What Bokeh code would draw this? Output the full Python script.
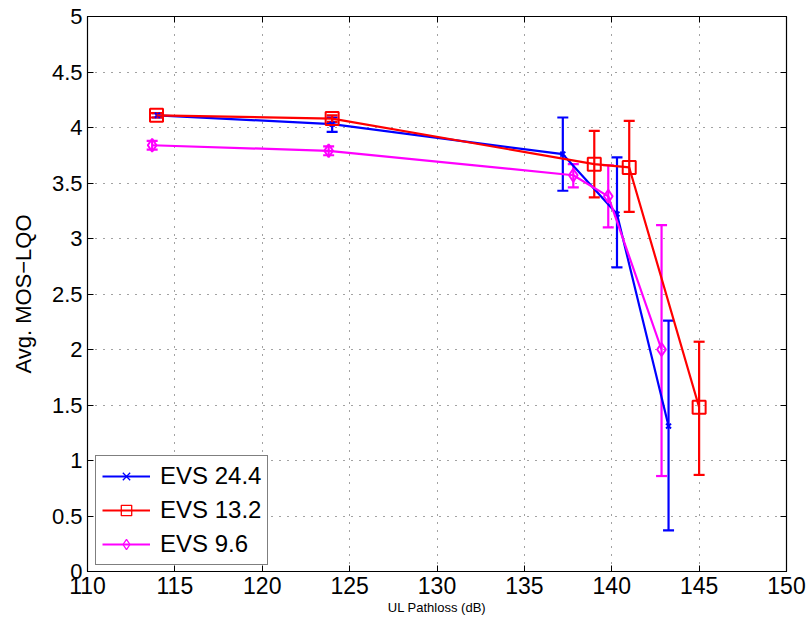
from bokeh.plotting import figure
from bokeh.models import (Whisker, TeeHead, ColumnDataSource, LinearAxis, Legend,
                          LegendItem, FixedTicker, Range1d)
from bokeh.embed import file_html
from bokeh.resources import INLINE

# UL pathloss (dB), mean MOS-LQO and error-bar bounds per codec mode
evs244_x = [114.0, 124.0, 137.2, 140.3, 143.25]
evs244_y = [4.11, 4.03, 3.76, 3.22, 1.31]
evs244_lo = [4.09, 3.96, 3.43, 2.74, 0.37]
evs244_hi = [4.13, 4.09, 4.09, 3.73, 2.26]

evs132_x = [113.95, 124.0, 139.0, 141.0, 145.0]
evs132_y = [4.11, 4.08, 3.67, 3.64, 1.48]
evs132_lo = [4.09, 4.05, 3.37, 3.24, 0.87]
evs132_hi = [4.13, 4.11, 3.97, 4.06, 2.07]

evs96_x = [113.7, 123.8, 137.8, 139.8, 142.85]
evs96_y = [3.84, 3.79, 3.57, 3.38, 2.00]
evs96_lo = [3.80, 3.75, 3.46, 3.10, 0.86]
evs96_hi = [3.88, 3.83, 3.67, 3.66, 3.12]

x_ticks = [110, 115, 120, 125, 130, 135, 140, 145, 150]
y_ticks = [0, 0.5, 1, 1.5, 2, 2.5, 3, 3.5, 4, 4.5, 5]
y_tick_labels = ["0", "0.5", "1", "1.5", "2", "2.5", "3", "3.5", "4", "4.5", "5"]

FONT = "Liberation Sans"

p = figure(width=811, height=622, output_backend="svg", toolbar_location=None,
           x_range=Range1d(110, 150), y_range=Range1d(0, 5),
           min_border_left=87, min_border_right=25, min_border_top=16,
           min_border_bottom=51, x_axis_label="UL Pathloss (dB)",
           y_axis_label="Avg. MOS\u2212LQO")
p.frame_width = 699
p.frame_height = 555
p.outline_line_color = "black"
p.outline_line_width = 1.2
p.background_fill_color = "white"
p.border_fill_color = "white"

for ax in (p.xaxis[0], p.yaxis[0]):
    ax.major_tick_in = 6
    ax.major_tick_out = 0
    ax.minor_tick_in = 0
    ax.minor_tick_out = 0
    ax.axis_line_color = "black"
    ax.major_label_text_font = FONT
    ax.major_label_text_color = "black"
    ax.axis_label_text_font = FONT
    ax.axis_label_text_font_style = "normal"
    ax.axis_label_text_color = "black"

p.xaxis[0].ticker = FixedTicker(ticks=x_ticks)
p.yaxis[0].ticker = FixedTicker(ticks=y_ticks)
p.yaxis[0].major_label_overrides = {t: s for t, s in zip(y_ticks, y_tick_labels)}
p.xaxis[0].major_label_text_font_size = "23px"
p.yaxis[0].major_label_text_font_size = "22px"
p.xaxis[0].axis_label_text_font_size = "13px"
p.xaxis[0].axis_label_standoff = 3
p.xaxis[0].major_label_standoff = 5
p.yaxis[0].axis_label_text_font_size = "22px"
p.yaxis[0].axis_label_standoff = 13
p.yaxis[0].major_label_standoff = 5

# Mirror ticks on top and right (boxed axes)
for side in ("above", "right"):
    a = LinearAxis(ticker=FixedTicker(ticks=x_ticks if side == "above" else y_ticks),
                   major_tick_in=6, major_tick_out=0, minor_tick_in=0, minor_tick_out=0,
                   major_label_text_font_size="0px", axis_line_color="black")
    a.major_label_text_alpha = 0
    p.add_layout(a, side)

p.grid.grid_line_color = "#444444"
p.grid.grid_line_dash = "1 7"
p.grid.grid_line_width = 1
p.xgrid.ticker = FixedTicker(ticks=x_ticks)
p.ygrid.ticker = FixedTicker(ticks=y_ticks)

series = [
    ("EVS 24.4", "blue", "x", 7, 6, evs244_x, evs244_y, evs244_lo, evs244_hi),
    ("EVS 13.2", "red", "square", 13, 10, evs132_x, evs132_y, evs132_lo, evs132_hi),
    ("EVS 9.6", "magenta", "diamond", 13, 10, evs96_x, evs96_y, evs96_lo, evs96_hi),
]

items = []
for name, color, marker, size, leg_size, xs, ys, lo, hi in series:
    src = ColumnDataSource(dict(x=xs, y=ys, lo=lo, hi=hi))
    w = Whisker(source=src, base="x", lower="lo", upper="hi", dimension="height",
                line_color=color, line_width=2.2,
                upper_head=TeeHead(size=11, line_color=color, line_width=2.2),
                lower_head=TeeHead(size=11, line_color=color, line_width=2.2))
    p.add_layout(w)
    p.line("x", "y", source=src, line_color=color, line_width=2.2)
    p.scatter("x", "y", source=src, marker=marker, size=size,
              line_color=color, fill_color=None, line_width=2)
    # legend swatch uses a smaller marker than the plotted points
    key_src = ColumnDataSource(dict(x=[float("nan")], y=[float("nan")]))
    kl = p.line("x", "y", source=key_src, line_color=color, line_width=2.2)
    km = p.scatter("x", "y", source=key_src, marker=marker, size=leg_size,
                   line_color=color, fill_color=None, line_width=1.3)
    items.append(LegendItem(label=name, renderers=[kl, km]))

legend = Legend(items=items, location=(8, 6), label_text_font=FONT,
                label_text_font_size="24px", label_text_color="black",
                border_line_color="black", border_line_width=1.2,
                glyph_width=48, glyph_height=26, label_standoff=10,
                spacing=6, padding=6, margin=0,
                background_fill_color="white", background_fill_alpha=1)
p.add_layout(legend, "center")

open("out.html", "w").write(file_html(p, INLINE))
